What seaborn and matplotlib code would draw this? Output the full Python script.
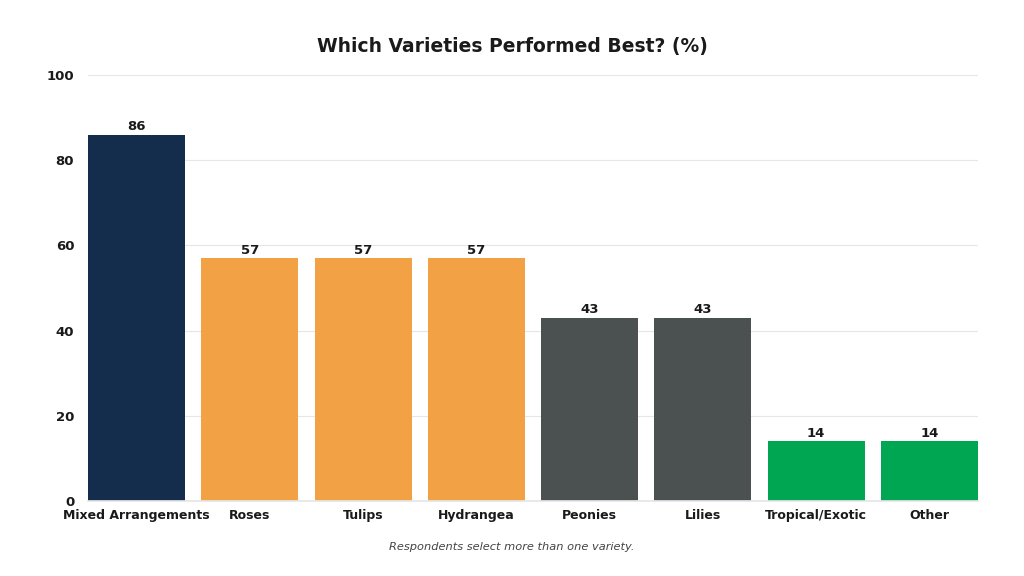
import matplotlib
matplotlib.use("Agg")
import matplotlib.pyplot as plt
import pandas as pd
import seaborn as sns

# -------------------------------
# DATA
# -------------------------------
varieties = ["Mixed Arrangements", "Roses", "Tulips", "Hydrangea",
             "Peonies", "Lilies", "Tropical/Exotic", "Other"]
percent = [86, 57, 57, 57, 43, 43, 14, 14]
bar_colors = ["#152d4c", "#f2a144", "#f2a144", "#f2a144",
              "#4a5150", "#4a5150", "#00a651", "#00a651"]

df = pd.DataFrame({"variety": varieties, "pct": percent})

sns.set_theme(style="white")
plt.rcParams["font.family"] = ["DejaVu Sans"]

fig = plt.figure(figsize=(10.24, 5.76), dpi=100)
ax = fig.add_axes([0.086, 0.130, 0.869, 0.740])

bar_w = 0.856
sns.barplot(data=df, x="variety", y="pct", hue="variety",
            palette=bar_colors, legend=False, width=bar_w,
            saturation=1, linewidth=0, ax=ax)

# value labels on top of bars
for cont in ax.containers:
    ax.bar_label(cont, fmt="%d", padding=1, fontsize=9.5,
                 fontweight="bold", color="#1a1a1a")

ax.set_ylim(0, 100)
ax.set_xlim(-bar_w / 2, len(varieties) - 1 + bar_w / 2)
ax.set_yticks(range(0, 101, 20))
ax.yaxis.grid(True, color="#e6e6e6", linewidth=0.8)
ax.set_axisbelow(True)
for s in ["left", "right", "top"]:
    ax.spines[s].set_visible(False)
ax.spines["bottom"].set_color("#e6e6e6")
ax.tick_params(axis="both", length=0, colors="#1a1a1a")
ax.tick_params(axis="y", pad=10, labelsize=9.5)
ax.tick_params(axis="x", pad=6, labelsize=9)
for lbl in ax.get_xticklabels() + ax.get_yticklabels():
    lbl.set_fontweight("semibold")
ax.set_xlabel("")
ax.set_ylabel("")

fig.text(0.5, 0.92, "Which Varieties Performed Best? (%)", ha="center",
         va="center", fontsize=13.5, fontweight="bold", color="#1a1a1a")
fig.text(0.5, 0.05, "Respondents select more than one variety.", ha="center",
         va="center", fontsize=8.2, style="italic", color="#444444")

plt.savefig("out.png", dpi=100)
plt.close()
